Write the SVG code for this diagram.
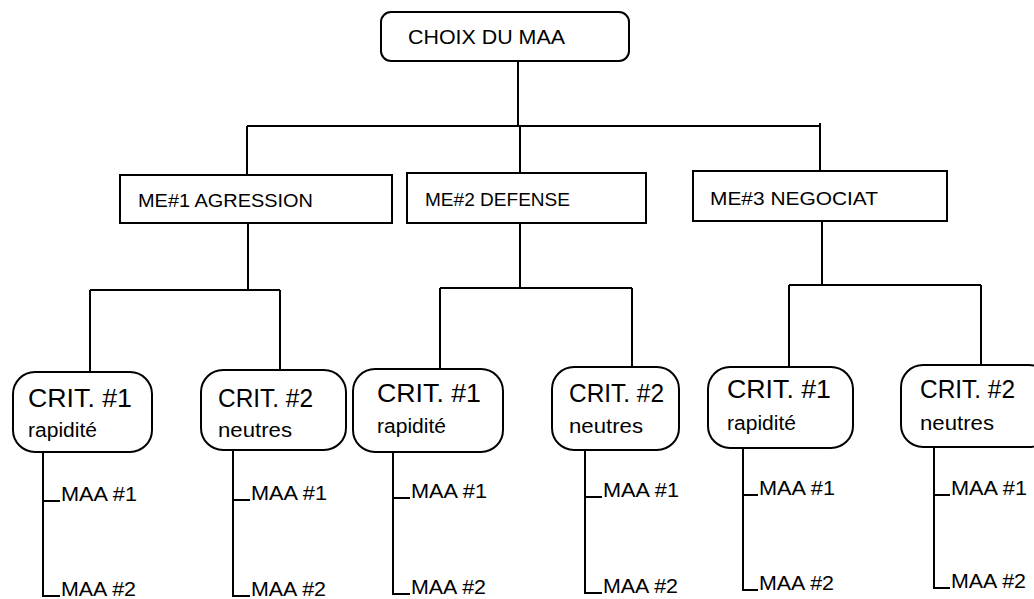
<svg xmlns="http://www.w3.org/2000/svg" width="1034" height="599" viewBox="0 0 1034 599">
<style>
.box{fill:#fff;stroke:#000;stroke-width:2}
.ln{fill:none;stroke:#000;stroke-width:2}
text{font-family:"Liberation Sans",Arial,sans-serif;fill:#000}
.t1{font-size:21px}
.me{font-size:19px}
.cr{font-size:26px}
.sb{font-size:20px}
.ma{font-size:20px}
</style>
<rect width="1034" height="599" fill="#fff"/>
<g id="connectors" class="ln">
<path d="M518,61 V126 M247,126 H820 M247,126 V175 M520,126 V173 M820,123 V171"/>
<path d="M248,223 V290 M90,290 H280 M90,290 V372 M280,290 V370"/>
<path d="M520,223 V288 M440,288 H632 M440,288 V369 M632,288 V367"/>
<path d="M822,221 V285 M789,285 H981 M789,285 V367 M981,285 V366"/>
<path d="M43,452 V596 H60 M43,501 H60"/>
<path d="M233,450 V596 H250 M233,500 H250"/>
<path d="M393,452 V594 H410 M393,498 H410"/>
<path d="M585,450 V593 H602 M585,497 H602"/>
<path d="M743,448 V590 H758 M743,495 H758"/>
<path d="M934,447 V588 H950 M934,495 H950"/>
</g>
<g id="root"><rect class="box" x="381" y="12" width="248" height="49" rx="10"/><text class="t1" x="408" y="44" textLength="157" lengthAdjust="spacingAndGlyphs">CHOIX DU MAA</text></g>
<g id="me1"><rect class="box" x="120" y="175" width="272" height="48"/><text class="me" x="138" y="207" textLength="175" lengthAdjust="spacingAndGlyphs">ME#1 AGRESSION</text></g>
<g id="me2"><rect class="box" x="407" y="173" width="239" height="50"/><text class="me" x="425" y="206" textLength="145" lengthAdjust="spacingAndGlyphs">ME#2 DEFENSE</text></g>
<g id="me3"><rect class="box" x="693" y="171" width="254" height="50"/><text class="me" x="710" y="205" textLength="168" lengthAdjust="spacingAndGlyphs">ME#3 NEGOCIAT</text></g>
<g id="c1"><rect class="box" x="13" y="372" width="139" height="80" rx="22"/><text class="cr" x="28" y="407" textLength="104" lengthAdjust="spacingAndGlyphs">CRIT. #1</text><text class="sb" x="28" y="437" textLength="69" lengthAdjust="spacingAndGlyphs">rapidité</text></g>
<g id="c2"><rect class="box" x="201" y="370" width="145" height="80" rx="22"/><text class="cr" x="218" y="407" textLength="95" lengthAdjust="spacingAndGlyphs">CRIT. #2</text><text class="sb" x="218" y="437" textLength="74" lengthAdjust="spacingAndGlyphs">neutres</text></g>
<g id="c3"><rect class="box" x="353" y="369" width="150" height="83" rx="22"/><text class="cr" x="377" y="402" textLength="104" lengthAdjust="spacingAndGlyphs">CRIT. #1</text><text class="sb" x="377" y="433" textLength="69" lengthAdjust="spacingAndGlyphs">rapidité</text></g>
<g id="c4"><rect class="box" x="552" y="367" width="127" height="83" rx="22"/><text class="cr" x="569" y="402" textLength="95" lengthAdjust="spacingAndGlyphs">CRIT. #2</text><text class="sb" x="569" y="433" textLength="74" lengthAdjust="spacingAndGlyphs">neutres</text></g>
<g id="c5"><rect class="box" x="708" y="367" width="145" height="81" rx="22"/><text class="cr" x="727" y="398" textLength="104" lengthAdjust="spacingAndGlyphs">CRIT. #1</text><text class="sb" x="727" y="430" textLength="69" lengthAdjust="spacingAndGlyphs">rapidité</text></g>
<g id="c6"><rect class="box" x="901" y="365" width="150" height="82" rx="22"/><text class="cr" x="920" y="398" textLength="95" lengthAdjust="spacingAndGlyphs">CRIT. #2</text><text class="sb" x="920" y="430" textLength="74" lengthAdjust="spacingAndGlyphs">neutres</text></g>
<g id="maa">
<text class="ma" x="61" y="501" textLength="76" lengthAdjust="spacingAndGlyphs">MAA #1</text><text class="ma" x="61" y="596" textLength="75" lengthAdjust="spacingAndGlyphs">MAA #2</text>
<text class="ma" x="251" y="500" textLength="76" lengthAdjust="spacingAndGlyphs">MAA #1</text><text class="ma" x="251" y="596" textLength="75" lengthAdjust="spacingAndGlyphs">MAA #2</text>
<text class="ma" x="411" y="498" textLength="76" lengthAdjust="spacingAndGlyphs">MAA #1</text><text class="ma" x="411" y="594" textLength="75" lengthAdjust="spacingAndGlyphs">MAA #2</text>
<text class="ma" x="603" y="497" textLength="76" lengthAdjust="spacingAndGlyphs">MAA #1</text><text class="ma" x="603" y="593" textLength="75" lengthAdjust="spacingAndGlyphs">MAA #2</text>
<text class="ma" x="759" y="495" textLength="76" lengthAdjust="spacingAndGlyphs">MAA #1</text><text class="ma" x="759" y="590" textLength="75" lengthAdjust="spacingAndGlyphs">MAA #2</text>
<text class="ma" x="951" y="495" textLength="76" lengthAdjust="spacingAndGlyphs">MAA #1</text><text class="ma" x="951" y="588" textLength="75" lengthAdjust="spacingAndGlyphs">MAA #2</text>
</g>
</svg>
